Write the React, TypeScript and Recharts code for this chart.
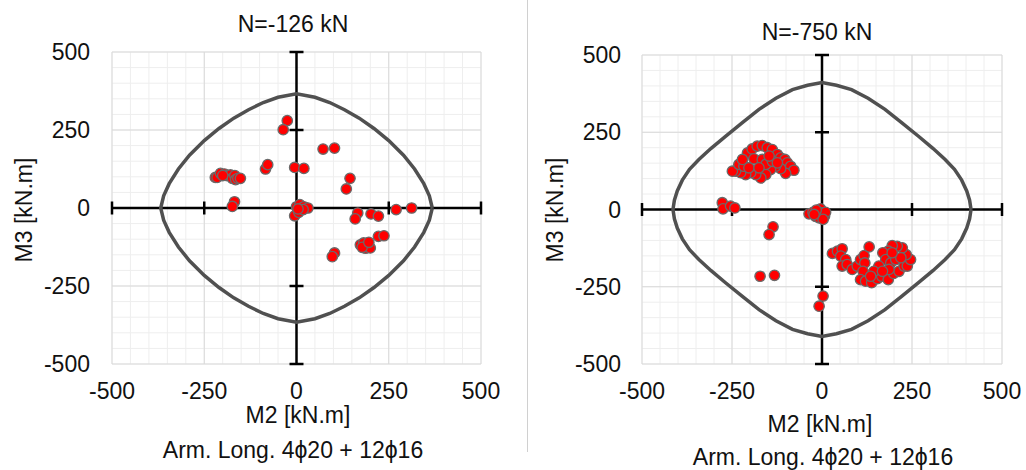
import React from "react";
import { ScatterChart, Scatter, XAxis, YAxis, CartesianGrid, ReferenceLine } from "recharts";

// axis ticks (kN.m)
const majorTicks = [-500, -250, 0, 250, 500];
const gridTicks = [
  -500, -450, -400, -350, -300, -250, -200, -150, -100, -50, 0,
  50, 100, 150, 200, 250, 300, 350, 400, 450, 500,
];

// interaction envelope, N = -126 kN  [M2, M3]
const envelopeN126: [number, number][] = [
  [368, 0], [360, 39], [345, 78], [320, 125], [290, 169], [250, 216], [210, 255], [170, 288], [130, 315], [90, 338], [50, 355], [0, 366],
  [-50, 355], [-90, 338], [-130, 315], [-170, 288], [-210, 255], [-250, 216], [-290, 169], [-320, 125], [-345, 78], [-360, 39], [-368, 0],
  [-360, -39], [-345, -78], [-320, -125], [-290, -169], [-250, -216], [-210, -255], [-170, -288], [-130, -315], [-90, -338], [-50, -355], [0, -366],
  [50, -355], [90, -338], [130, -315], [170, -288], [210, -255], [250, -216], [290, -169], [320, -125], [345, -78], [360, -39], [368, 0],
];

// interaction envelope, N = -750 kN  [M2, M3]
const envelopeN750: [number, number][] = [
  [414, 0], [410, 30], [402, 60], [388, 95], [368, 130], [342, 162], [308, 198], [268, 237], [222, 280], [175, 324], [128, 360], [82, 388], [40, 402], [0, 411],
  [-40, 402], [-82, 388], [-128, 360], [-175, 324], [-222, 280], [-268, 237], [-308, 198], [-342, 162], [-368, 130], [-388, 95], [-402, 60], [-410, 30], [-414, 0],
  [-410, -30], [-402, -60], [-388, -95], [-368, -130], [-342, -162], [-308, -198], [-268, -237], [-222, -280], [-175, -324], [-128, -360], [-82, -388], [-40, -402], [0, -411],
  [40, -402], [82, -388], [128, -360], [175, -324], [222, -280], [268, -237], [308, -198], [342, -162], [368, -130], [388, -95], [402, -60], [410, -30], [414, 0],
];

// load combinations, N = -126 kN  [M2, M3]
const pointsN126: [number, number][] = [
  [-25, 280], [-36, 251], [-84, 125], [-78, 139], [-5, 130], [20, 127],
  [-220, 98], [-215, 98], [-206, 111], [-195, 109], [-188, 104], [-179, 106], [-174, 95], [-167, 104],
  [-165, 91], [-159, 95], [-152, 95], [-200, 104],
  [-168, 20], [-174, 5],
  [0, 4], [9, 11], [20, 4], [31, 0], [11, -6], [-5, -25], [6, -14], [18, -5], [4, -3],
  [72, 189], [103, 192], [145, 95], [135, 61], [270, -5], [312, 0],
  [166, -16], [159, -35], [202, -19], [222, -26], [222, -91], [237, -89],
  [173, -118], [182, -112], [192, -121], [187, -129], [200, -128], [178, -126], [196, -110],
  [103, -144], [97, -156],
];

// load combinations, N = -750 kN  [M2, M3]
const pointsN750: [number, number][] = [
  [-207, 183], [-194, 196], [-180, 205], [-166, 207], [-152, 200], [-138, 194], [-124, 178], [-115, 167],
  [-103, 162], [-96, 151], [-87, 140], [-78, 127], [-101, 117], [-115, 132], [-129, 140], [-143, 129],
  [-156, 113], [-170, 102], [-184, 113], [-198, 119], [-212, 113], [-226, 119], [-240, 124], [-249, 124],
  [-231, 146], [-217, 140], [-203, 135], [-189, 164], [-166, 162], [-156, 146], [-138, 156], [-124, 151],
  [-175, 135], [-147, 173], [-221, 162],
  [-277, 22], [-275, 2], [-254, 11], [-242, 5],
  [-136, -56], [-147, -81], [-172, -216], [-132, -213],
  [3, -280], [-8, -313],
  [-36, -14], [-25, -9], [-18, -22], [-4, 2], [1, -11], [7, -22], [-8, -27], [10, -9], [-16, -2], [3, -32], [-22, -16],
  [29, -142], [43, -135], [56, -127], [52, -151], [66, -162], [56, -183], [70, -178], [84, -194],
  [98, -183], [107, -162], [117, -149], [131, -121], [119, -173], [114, -200], [107, -227], [121, -232],
  [138, -237], [154, -224], [166, -216], [184, -227], [199, -207], [214, -200], [228, -183], [237, -183],
  [246, -162], [234, -146], [223, -124], [209, -119], [195, -117], [184, -135], [169, -140], [177, -162],
  [191, -173], [205, -162], [219, -156], [158, -183], [144, -200], [135, -216], [195, -140], [186, -194],
  [168, -200],
];

const FONT = '"Liberation Sans", Arial, Helvetica, sans-serif';
const FS = 23;
const tickStyle = { fontSize: FS, fill: "#111", fontFamily: FONT };
const fmt = (v: number) => (majorTicks.includes(v) ? String(v) : "");

const xMarks = majorTicks.filter((v) => v !== 0).map((v) => ({ x: v, y: 0 }));
const yMarks = majorTicks.filter((v) => v !== 0).map((v) => ({ x: 0, y: v }));

const vMark = (p: any) => (
  <line x1={p.cx} x2={p.cx} y1={p.cy - 6.5} y2={p.cy + 6.5} stroke="#000" strokeWidth={2.5} />
);
const hMark = (p: any) => (
  <line x1={p.cx - 7} x2={p.cx + 7} y1={p.cy} y2={p.cy} stroke="#000" strokeWidth={2.5} />
);
const dot = (p: any) => (
  <circle cx={p.cx} cy={p.cy} r={5.2} fill="#ff0000" stroke="#6a6a6a" strokeWidth={1.3} />
);

function Txt({ x, y, rotate, children }: { x: number; y: number; rotate?: boolean; children: React.ReactNode }) {
  return (
    <div
      style={{
        position: "absolute",
        left: x,
        top: y,
        transform: `translate(-50%, -50%)${rotate ? " rotate(-90deg)" : ""}`,
        whiteSpace: "nowrap",
        fontFamily: FONT,
        fontSize: FS,
        lineHeight: 0.8,
        color: "#111",
      }}
    >
      {children}
    </div>
  );
}

type PanelProps = {
  x0: number;
  yAxisW: number;
  top: number;
  right: number;
  yTickGap: number;
  envelope: [number, number][];
  points: [number, number][];
};

function Panel({ x0, yAxisW, top, right, yTickGap, envelope, points }: PanelProps) {
  const env = envelope.map(([x, y]) => ({ x, y }));
  const pts = points.map(([x, y]) => ({ x, y }));
  return (
    <div style={{ position: "absolute", left: x0, top: 0 }}>
      <ScatterChart width={513} height={470} margin={{ top, right, bottom: 0, left: 0 }}>
        <CartesianGrid stroke="#eeeeee" />
        <XAxis
          type="number"
          dataKey="x"
          domain={[-500, 500]}
          ticks={gridTicks}
          interval={0}
          tickFormatter={fmt}
          axisLine={false}
          tickLine={false}
          tickSize={0}
          tickMargin={19}
          height={106}
          tick={tickStyle}
        />
        <YAxis
          type="number"
          dataKey="y"
          domain={[-500, 500]}
          ticks={gridTicks}
          interval={0}
          tickFormatter={fmt}
          axisLine={false}
          tickLine={false}
          tickSize={0}
          tickMargin={yTickGap}
          width={yAxisW}
          tick={tickStyle}
        />
        {majorTicks.map((v) => (
          <ReferenceLine key={"gx" + v} x={v} stroke="#d9d9d9" zIndex={-50} />
        ))}
        {majorTicks.map((v) => (
          <ReferenceLine key={"gy" + v} y={v} stroke="#d9d9d9" zIndex={-50} />
        ))}
        <ReferenceLine x={0} stroke="#000" strokeWidth={2.5} zIndex={-40} />
        <ReferenceLine y={0} stroke="#000" strokeWidth={2.5} zIndex={-40} />
        <Scatter data={env} line={{ stroke: "#505050", strokeWidth: 3.5 }} shape={() => <g />} isAnimationActive={false} />
        <Scatter data={xMarks} shape={vMark} isAnimationActive={false} />
        <Scatter data={yMarks} shape={hMark} isAnimationActive={false} />
        <Scatter data={pts} shape={dot} isAnimationActive={false} />
      </ScatterChart>
    </div>
  );
}

export default function App() {
  return (
    <div style={{ position: "absolute", left: 0, top: 0, width: 1026, height: 470, background: "#fff", overflow: "hidden" }}>
      <Panel x0={0} yAxisW={112} top={52} right={32} yTickGap={22} envelope={envelopeN126} points={pointsN126} />
      <Panel x0={513} yAxisW={129} top={55} right={24} yTickGap={21} envelope={envelopeN750} points={pointsN750} />

      <div style={{ position: "absolute", left: 527, top: 0, width: 1, height: 452, background: "#d0d0d0" }} />

      <Txt x={293} y={24}>N=-126 kN</Txt>
      <Txt x={24} y={210} rotate>M3 [kN.m]</Txt>
      <Txt x={298} y={415}>M2 [kN.m]</Txt>
      <Txt x={293} y={450}>Arm. Long. 4ϕ20 + 12ϕ16</Txt>

      <Txt x={817} y={32}>N=-750 kN</Txt>
      <Txt x={555} y={210} rotate>M3 [kN.m]</Txt>
      <Txt x={820} y={424}>M2 [kN.m]</Txt>
      <Txt x={823} y={457}>Arm. Long. 4ϕ20 + 12ϕ16</Txt>
    </div>
  );
}
